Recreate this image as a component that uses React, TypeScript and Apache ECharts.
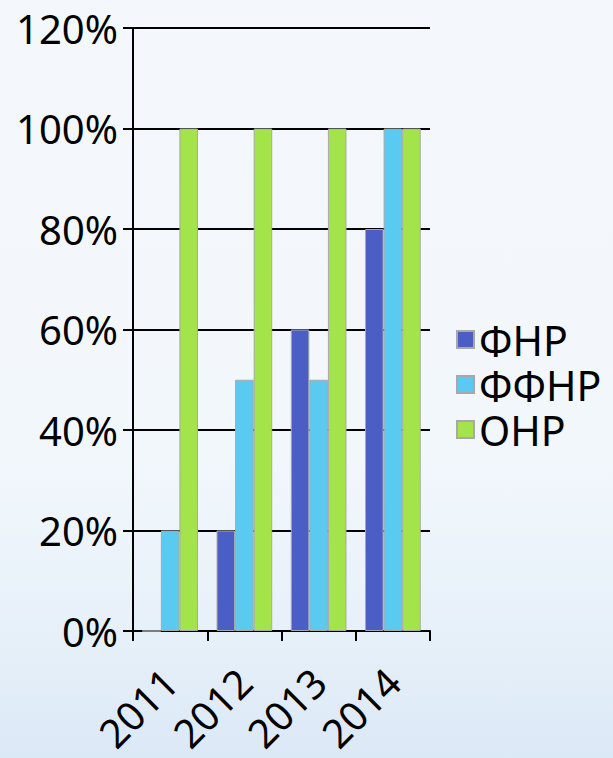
import React, { useEffect, useRef } from "react";
import * as echarts from "echarts";

const categories = ["2011", "2012", "2013", "2014"];
const seriesNames = ["ФНР", "ФФНР", "ОНР"];
const fnr = [0, 0.2, 0.6, 0.8];
const ffnr = [0.2, 0.5, 0.5, 1.0];
const onr = [1.0, 1.0, 1.0, 1.0];
const colors = ["#4a5ec6", "#5bcaf0", "#a4e44b"];

export default function App() {
  const ref = useRef<HTMLDivElement>(null);
  useEffect(() => {
    if (!ref.current) return;
    const chart = echarts.init(ref.current, null, { renderer: "svg" });
    const font = "'Noto Sans'";
    const values = [fnr, ffnr, onr];
    chart.setOption({
      animation: false,
      grid: { left: 133, right: 183, top: 28, bottom: 127, containLabel: false },
      legend: {
        orient: "vertical",
        left: 451,
        top: 313,
        padding: 5,
        itemWidth: 17,
        itemHeight: 17,
        itemGap: 2,
        icon: "rect",
        data: seriesNames,
        textStyle: { fontSize: 41, lineHeight: 43, color: "#000", fontFamily: font },
      },
      xAxis: {
        type: "category",
        data: categories,
        axisLine: { show: true, lineStyle: { color: "#000", width: 2 } },
        axisTick: { show: true, length: 10, lineStyle: { color: "#000", width: 2 } },
        axisLabel: {
          interval: 0,
          rotate: 45,
          margin: 44,
          fontSize: 40,
          color: "#000",
          fontFamily: font,
          padding: [59, 0, 0, 0],
        },
      },
      yAxis: {
        type: "value",
        min: 0,
        max: 1.2,
        interval: 0.2,
        axisLine: { show: true, lineStyle: { color: "#000", width: 2 } },
        axisTick: { show: true, length: 10, lineStyle: { color: "#000", width: 2 } },
        splitLine: { show: true, lineStyle: { color: "#000", width: 2 } },
        axisLabel: {
          margin: 15,
          fontSize: 40,
          color: "#000",
          fontFamily: font,
          formatter: (v: number) => Math.round(v * 100) + "%",
        },
      },
      series: seriesNames.map((name, i) => ({
        name,
        type: "bar",
        data: values[i],
        barGap: "0%",
        barCategoryGap: "25%",
        itemStyle: { color: colors[i], borderColor: "#a8a8a8", borderWidth: 1 },
      })),
    });
    return () => chart.dispose();
  }, []);
  return (
    <div
      style={{
        position: "fixed",
        left: 0,
        top: 0,
        width: 613,
        height: 758,
        background: "linear-gradient(to bottom, #f4f8fc 0%, #f2f7fc 60%, #e6f0f9 85%, #dbe8f6 100%)",
      }}
    >
      <div ref={ref} style={{ width: 613, height: 758 }} />
    </div>
  );
}
